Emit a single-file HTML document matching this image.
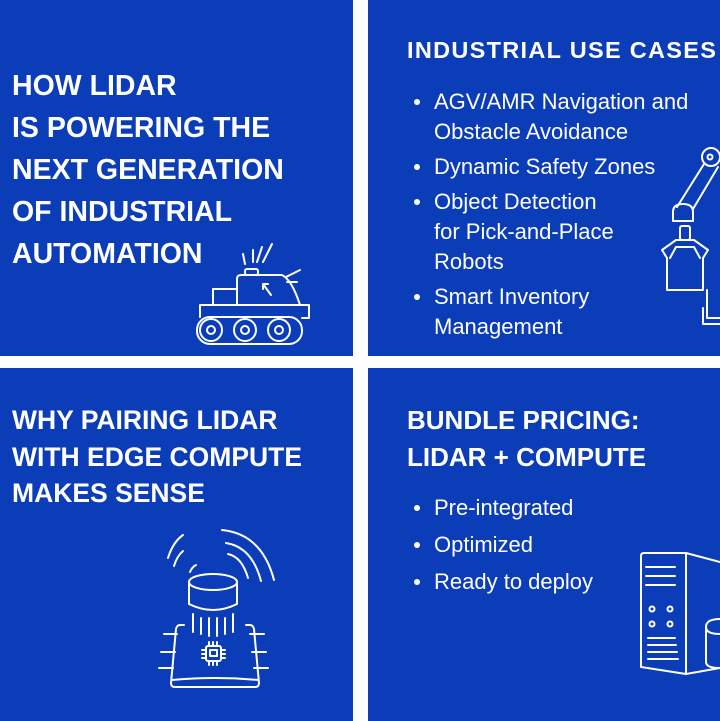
<!DOCTYPE html>
<html><head><meta charset="utf-8"><style>
*{margin:0;padding:0;box-sizing:border-box}
body{width:720px;height:721px;background:#fff;position:relative;overflow:hidden;font-family:"Liberation Sans",sans-serif;color:#fff}
.p{position:absolute;background:#0b3db8}
.t{position:absolute;font-weight:bold;white-space:nowrap}
ul{position:absolute;list-style:none;white-space:nowrap}
li{position:relative;padding-left:27px}
li:before{content:"";position:absolute;left:7px;top:12px;width:6px;height:6px;border-radius:50%;background:#fff}
ul.b li:before{top:15.5px}
svg{position:absolute;left:0;top:0}
</style></head><body>
<div class="p" style="left:0;top:0;width:353px;height:356px"></div>
<div class="p" style="left:368px;top:0;width:352px;height:356px"></div>
<div class="p" style="left:0;top:368px;width:353px;height:353px"></div>
<div class="p" style="left:368px;top:368px;width:352px;height:353px"></div>

<div class="t" style="left:12px;top:65px;font-size:28.5px;line-height:42px">HOW LIDAR<br>IS POWERING THE<br>NEXT GENERATION<br>OF INDUSTRIAL<br>AUTOMATION</div>

<div class="t" style="left:407px;top:35px;font-size:23.5px;line-height:30px;letter-spacing:1.3px">INDUSTRIAL USE CASES</div>
<ul style="left:407px;top:87px;font-size:22px;line-height:30px">
<li>AGV/AMR Navigation and<br>Obstacle Avoidance</li>
<li style="margin-top:5px">Dynamic Safety Zones</li>
<li style="margin-top:5px">Object Detection<br>for Pick-and-Place<br>Robots</li>
<li style="margin-top:5px">Smart Inventory<br>Management</li>
</ul>

<div class="t" style="left:12px;top:402px;font-size:26.5px;line-height:36.5px">WHY PAIRING LIDAR<br>WITH EDGE COMPUTE<br>MAKES SENSE</div>

<div class="t" style="left:407px;top:402px;font-size:26px;line-height:36.5px">BUNDLE PRICING:<br>LIDAR + COMPUTE</div>
<ul class="b" style="left:407px;top:489px;font-size:22px;line-height:37px">
<li>Pre-integrated</li><li>Optimized</li><li>Ready to deploy</li>
</ul>

<svg width="720" height="721" fill="none" stroke="#fff" stroke-width="2" stroke-linecap="round" stroke-linejoin="round">
<rect x="197" y="317" width="105" height="27" rx="13"/>
<circle cx="211" cy="330" r="11"/><circle cx="211" cy="330" r="4"/>
<circle cx="245" cy="330" r="11"/><circle cx="245" cy="330" r="4"/>
<circle cx="279" cy="330" r="11"/><circle cx="279" cy="330" r="4"/>
<path d="M200 317 V305 H309 V318 H302"/>
<rect x="213" y="289" width="24" height="16"/>
<path d="M237 305 V279 Q237 275 241 275 H282 Q292 280 300 305"/>
<rect x="245" y="269" width="13" height="6" rx="2"/>
<path d="M271 295 L263 284 M263 284 H268 M263 284 V289"/>
<path d="M243 254 L245 264 M253 250 L253 262 M262 247 L257 262 M272 244 L263 262 M286 277 L300 270 M287 282 L297 282"/>
<circle cx="711" cy="157" r="9"/><circle cx="710" cy="157" r="2.5"/>
<path d="M704 164 L677 207 M718 167 L693 209"/>
<path d="M673 221 V212 Q673 204 683 204 Q693 204 693 212 V221 Z"/>
<rect x="680" y="226" width="10" height="14" rx="2"/>
<path d="M676 240 H694 L708 250 L703 258 V290 H667 V258 L662 250 Z M670 258 L676 247 H694 L700 258"/>
<path d="M707 290 V318 H720 M703 308 V324 H720"/>
<path d="M168 558 Q173 542 183 535 M174 566 Q177 556 183 551 M190 572 Q192 567 196 565"/>
<path d="M222 530 Q262 534 274 580 M226 543 Q252 547 261 581 M228 554 Q242 557 248 578"/>
<ellipse cx="213" cy="582" rx="24" ry="8"/>
<path d="M189 582 V604 Q213 616 237 604 V582"/>
<path d="M193 614 V632 M201 618 V634 M209 618 V636 M217 618 V636 M225 618 V634 M233 614 V632"/>
<path d="M184 625 H180 Q177 625 176 629 L171 683 Q171 687 175 687 H255 Q259 687 259 683 L254 629 Q253 625 250 625 H246"/>
<path d="M172 680 Q215 676 258 680"/>
<path d="M164 634 H177 M161 652 H175 M159 668 H173 M250 634 H264 M252 652 H266 M254 668 H268"/>
<rect x="206" y="646" width="15" height="15" rx="2"/><rect x="210" y="650" width="7" height="6"/>
<path d="M209 642 V646 M213 642 V646 M217 642 V646 M209 661 V665 M213 661 V665 M217 661 V665 M202 650 H206 M202 654 H206 M202 658 H206 M221 650 H225 M221 654 H225 M221 658 H225"/>
<path d="M641 556 Q641 553 644 553 H686 L720 562 M686 553 V674 M641 556 V667 L686 674 L720 668"/>
<path d="M646 567 H675 M646 576 H675 M646 585 H675"/>
<circle cx="652" cy="609" r="2.5"/><circle cx="670" cy="609" r="2.5"/>
<circle cx="652" cy="624" r="2.5"/><circle cx="670" cy="624" r="2.5"/>
<path d="M648 638 H675 M648 645 H676 M648 652 H677 M648 659 H678"/>
<path d="M720 619 Q706 619 706 627 V662 Q706 668 720 668 M706 627 Q706 634 720 634"/>
</svg>
</body></html>
